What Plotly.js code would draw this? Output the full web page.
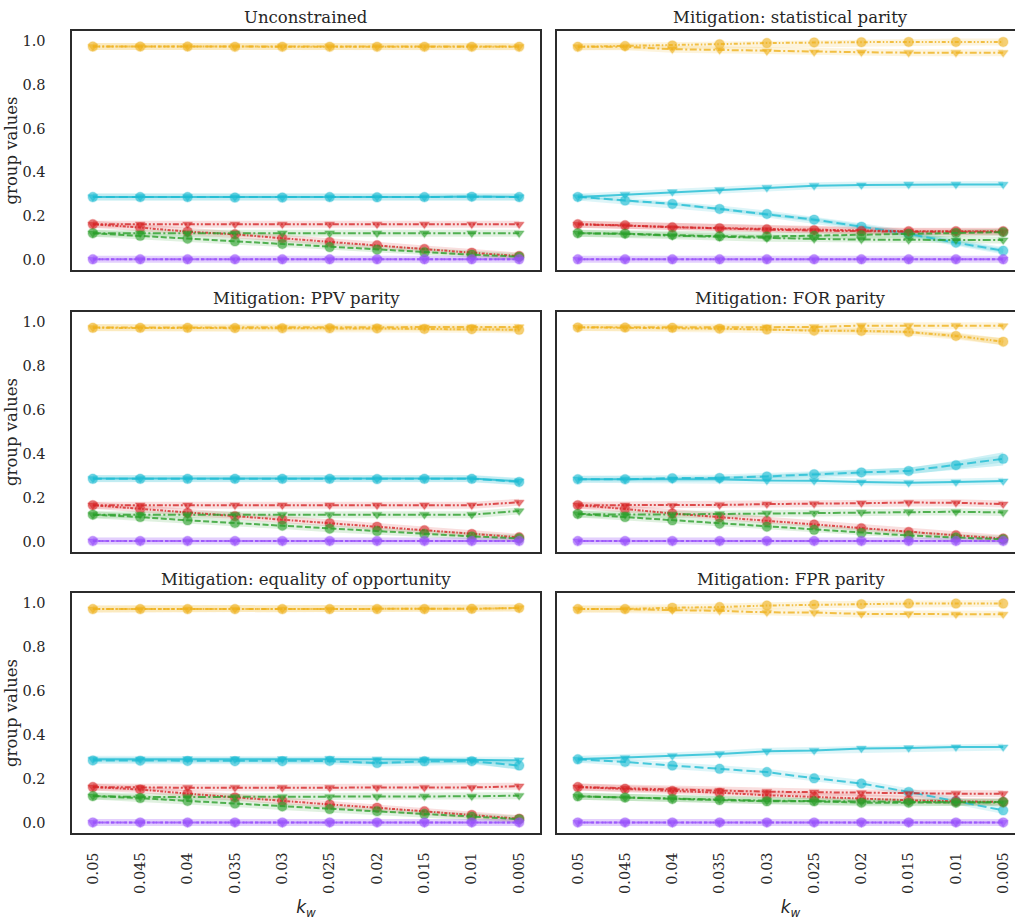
<!DOCTYPE html>
<html>
<head>
<meta charset="utf-8">
<script src="https://cdn.plot.ly/plotly-3.0.1.min.js"></script>
<style>
html,body{margin:0;padding:0;overflow:hidden;background:#fff;}
#chart{width:1024px;height:920px;}
</style>
</head>
<body>
<div id="chart"></div>
<script>
// ---------- data ----------
const kwLabels = ['0.05','0.045','0.04','0.035','0.03','0.025','0.02','0.015','0.01','0.005'];
const panelTitles = ['Unconstrained','Mitigation: statistical parity','Mitigation: PPV parity',
  'Mitigation: FOR parity','Mitigation: equality of opportunity','Mitigation: FPR parity'];
const yTickVals = [0, 0.2, 0.4, 0.6, 0.8, 1.0];
const yTickText = ['0.0','0.2','0.4','0.6','0.8','1.0'];

// each panel: series keyed by colour + marker (C = circle, T = triangle)
const unconstrained = {
  orangeC: [0.975,0.975,0.975,0.974,0.974,0.974,0.974,0.974,0.974,0.974],
  orangeT: [0.975,0.975,0.975,0.975,0.975,0.975,0.975,0.975,0.975,0.975],
  cyanC:   [0.287,0.287,0.287,0.285,0.285,0.287,0.286,0.287,0.289,0.287],
  cyanT:   [0.288,0.288,0.288,0.287,0.286,0.287,0.287,0.287,0.290,0.288],
  redC:    [0.163,0.148,0.129,0.117,0.099,0.082,0.067,0.050,0.033,0.018],
  redT:    [0.163,0.163,0.163,0.163,0.163,0.163,0.163,0.163,0.163,0.163],
  greenC:  [0.122,0.110,0.097,0.085,0.073,0.059,0.047,0.035,0.024,0.015],
  greenT:  [0.122,0.122,0.122,0.122,0.122,0.122,0.122,0.122,0.122,0.122],
  purpleC: [0.003,0.003,0.003,0.003,0.003,0.003,0.003,0.003,0.003,0.003],
  purpleT: [0.003,0.003,0.003,0.003,0.003,0.003,0.003,0.003,0.003,0.003]
};
const statParity = {
  orangeC: [0.974,0.977,0.980,0.986,0.991,0.994,0.995,0.996,0.996,0.996],
  orangeT: [0.974,0.974,0.963,0.959,0.954,0.950,0.949,0.947,0.947,0.947],
  cyanC:   [0.288,0.271,0.256,0.233,0.210,0.184,0.152,0.119,0.079,0.042],
  cyanT:   [0.288,0.298,0.311,0.320,0.330,0.339,0.342,0.345,0.345,0.345],
  redC:    [0.163,0.158,0.149,0.145,0.140,0.136,0.132,0.131,0.131,0.131],
  redT:    [0.163,0.157,0.148,0.143,0.138,0.134,0.131,0.129,0.129,0.128],
  greenC:  [0.122,0.120,0.114,0.108,0.107,0.110,0.113,0.119,0.123,0.127],
  greenT:  [0.122,0.119,0.111,0.105,0.099,0.096,0.093,0.091,0.091,0.091],
  purpleC: [0.003,0.003,0.003,0.003,0.003,0.003,0.003,0.003,0.003,0.003],
  purpleT: [0.003,0.003,0.003,0.003,0.003,0.003,0.003,0.003,0.003,0.003]
};
const ppvParity = {
  orangeC: [0.974,0.974,0.974,0.973,0.972,0.972,0.971,0.969,0.968,0.965],
  orangeT: [0.975,0.975,0.975,0.975,0.975,0.975,0.976,0.976,0.977,0.978],
  cyanC:   [0.287,0.287,0.287,0.287,0.287,0.287,0.286,0.287,0.287,0.273],
  cyanT:   [0.288,0.288,0.288,0.288,0.288,0.288,0.287,0.288,0.288,0.276],
  redC:    [0.167,0.150,0.132,0.117,0.101,0.085,0.069,0.053,0.036,0.021],
  redT:    [0.167,0.167,0.167,0.167,0.167,0.167,0.167,0.167,0.167,0.180],
  greenC:  [0.124,0.113,0.098,0.086,0.074,0.060,0.049,0.036,0.025,0.016],
  greenT:  [0.124,0.124,0.124,0.124,0.124,0.124,0.124,0.124,0.124,0.141],
  purpleC: [0.004,0.004,0.004,0.004,0.004,0.004,0.004,0.004,0.004,0.004],
  purpleT: [0.004,0.004,0.004,0.004,0.004,0.004,0.004,0.004,0.004,0.004]
};
const forParity = {
  orangeC: [0.976,0.975,0.974,0.970,0.966,0.961,0.960,0.955,0.937,0.911],
  orangeT: [0.976,0.976,0.974,0.974,0.977,0.978,0.984,0.984,0.984,0.983],
  cyanC:   [0.285,0.285,0.290,0.291,0.298,0.308,0.316,0.323,0.349,0.378],
  cyanT:   [0.285,0.285,0.286,0.285,0.279,0.278,0.272,0.269,0.272,0.277],
  redC:    [0.167,0.150,0.129,0.112,0.095,0.079,0.062,0.045,0.030,0.015],
  redT:    [0.167,0.167,0.165,0.168,0.172,0.173,0.176,0.179,0.178,0.172],
  greenC:  [0.127,0.113,0.098,0.083,0.069,0.055,0.041,0.029,0.020,0.012],
  greenT:  [0.127,0.124,0.125,0.127,0.130,0.131,0.134,0.137,0.137,0.134],
  purpleC: [0.004,0.004,0.004,0.004,0.004,0.004,0.004,0.004,0.004,0.004],
  purpleT: [0.004,0.004,0.004,0.004,0.004,0.004,0.004,0.004,0.004,0.004]
};
const eqOpportunity = {
  orangeC: [0.973,0.973,0.973,0.973,0.973,0.973,0.973,0.973,0.974,0.978],
  orangeT: [0.973,0.973,0.973,0.973,0.973,0.973,0.974,0.973,0.974,0.978],
  cyanC:   [0.284,0.283,0.282,0.281,0.281,0.282,0.272,0.280,0.281,0.261],
  cyanT:   [0.289,0.289,0.291,0.291,0.291,0.292,0.289,0.288,0.287,0.285],
  redC:    [0.163,0.152,0.133,0.116,0.100,0.084,0.069,0.053,0.036,0.019],
  redT:    [0.163,0.160,0.160,0.160,0.160,0.160,0.161,0.161,0.161,0.167],
  greenC:  [0.122,0.113,0.100,0.088,0.075,0.063,0.053,0.040,0.028,0.017],
  greenT:  [0.122,0.118,0.118,0.118,0.118,0.118,0.119,0.121,0.121,0.124],
  purpleC: [0.002,0.002,0.002,0.002,0.002,0.002,0.002,0.002,0.002,0.002],
  purpleT: [0.002,0.002,0.002,0.002,0.002,0.002,0.002,0.002,0.002,0.002]
};
const fprParity = {
  orangeC: [0.973,0.973,0.979,0.982,0.989,0.993,0.995,0.998,0.998,0.998],
  orangeT: [0.973,0.973,0.968,0.965,0.958,0.957,0.951,0.951,0.949,0.949],
  cyanC:   [0.289,0.277,0.261,0.246,0.231,0.203,0.179,0.141,0.100,0.057],
  cyanT:   [0.289,0.296,0.305,0.314,0.326,0.329,0.339,0.341,0.345,0.345],
  redC:    [0.163,0.155,0.145,0.137,0.126,0.118,0.109,0.103,0.098,0.095],
  redT:    [0.163,0.157,0.150,0.147,0.142,0.140,0.136,0.133,0.133,0.133],
  greenC:  [0.121,0.115,0.109,0.104,0.098,0.098,0.092,0.092,0.092,0.095],
  greenT:  [0.121,0.115,0.110,0.106,0.101,0.099,0.096,0.095,0.093,0.092],
  purpleC: [0.002,0.002,0.002,0.002,0.002,0.002,0.002,0.002,0.002,0.002],
  purpleT: [0.002,0.002,0.002,0.002,0.002,0.002,0.002,0.002,0.002,0.002]
};
const panels = [unconstrained, statParity, ppvParity, forParity, eqOpportunity, fprParity];

// confidence-interval half widths for the visibly wide bands
const statCyanC_ci = [0.002,0.006,0.006,0.007,0.008,0.009,0.010,0.010,0.010,0.010];
const ppvOrangeC_ci = [0.002,0.002,0.002,0.003,0.004,0.004,0.005,0.006,0.008,0.010];
const forOrangeC_ci = [0.002,0.002,0.003,0.004,0.004,0.005,0.006,0.007,0.010,0.016];
const forCyanC_ci  = [0.002,0.002,0.004,0.006,0.008,0.010,0.012,0.014,0.020,0.030];
const eoCyanC_ci   = [0.003,0.003,0.004,0.005,0.006,0.007,0.008,0.008,0.010,0.020];
const wideBands = [
  {panel: 1, key: 'cyanC', half: statCyanC_ci},
  {panel: 2, key: 'orangeC', half: ppvOrangeC_ci},
  {panel: 3, key: 'orangeC', half: forOrangeC_ci},
  {panel: 3, key: 'cyanC', half: forCyanC_ci},
  {panel: 4, key: 'cyanC', half: eoCyanC_ci}
];

// ---------- styles ----------
const colors = {orange:'#efb21e', cyan:'#1fbdd3', red:'#d62728', green:'#2ca02c', purple:'#9a52fb'};
function rgba(hex, a){
  const n = parseInt(hex.slice(1),16);
  return `rgba(${(n>>16)&255},${(n>>8)&255},${n&255},${a})`;
}
const seriesStyles = [
  {key:'orangeC', color:'orange', symbol:'circle',        dash:'4px,2px,1.5px,2px,1.5px,2px'},
  {key:'orangeT', color:'orange', symbol:'triangle-down', dash:'7px,2.5px,2px,2.5px'},
  {key:'cyanC',   color:'cyan',   symbol:'circle',        dash:'9px,4px'},
  {key:'cyanT',   color:'cyan',   symbol:'triangle-down', dash:'solid'},
  {key:'redC',    color:'red',    symbol:'circle',        dash:'3px,1.5px,1.5px,1.5px'},
  {key:'redT',    color:'red',    symbol:'triangle-down', dash:'6px,2px,2px,2px,2px,2px'},
  {key:'greenC',  color:'green',  symbol:'circle',        dash:'6px,2.5px'},
  {key:'greenT',  color:'green',  symbol:'triangle-down', dash:'8px,2.5px,2px,2.5px'},
  {key:'purpleC', color:'purple', symbol:'circle',        dash:'3px,1.5px'},
  {key:'purpleT', color:'purple', symbol:'triangle-down', dash:'4px,2px'}
];

// ---------- layout geometry ----------
const W = 1024, H = 920;
const colPx = [[72, 540], [557, 1024]];
const rowPx = [[31, 270], [312, 552], [593, 833]];
const fontSerif = 'DejaVu Serif, serif';
const textColor = '#262626';

const traces = [];
const layout = {
  width: W, height: H,
  margin: {l:0, r:0, t:0, b:0},
  paper_bgcolor: '#ffffff', plot_bgcolor: '#ffffff',
  showlegend: false,
  font: {family: fontSerif, color: textColor, size: 14},
  annotations: []
};

panels.forEach((pdata, p) => {
  const row = Math.floor(p / 2), col = p % 2;
  const idx = p + 1;
  const xa = 'x' + (idx === 1 ? '' : idx), ya = 'y' + (idx === 1 ? '' : idx);
  const xDom = [colPx[col][0] / W, colPx[col][1] / W];
  const yDom = [(H - rowPx[row][1]) / H, (H - rowPx[row][0]) / H];

  const xaxis = {
    domain: xDom, anchor: ya, type: 'category',
    categoryorder: 'array', categoryarray: kwLabels,
    range: [-0.44, 9.44],
    showline: true, mirror: true, linecolor: '#2b2b2b', linewidth: 1.6,
    showgrid: false, zeroline: false,
    ticks: 'outside', ticklen: 12, tickcolor: 'rgba(0,0,0,0)',
    showticklabels: row === 2, tickangle: -90,
    tickfont: {family: fontSerif, size: 14.5, color: textColor}
  };
  if (row === 2) {
    xaxis.title = {text: '<i>k</i><sub><i>w</i></sub>', standoff: 10,
      font: {family: 'DejaVu Sans, sans-serif', size: 17, color: textColor}};
  }
  const yaxis = {
    domain: yDom, anchor: xa,
    range: [-0.046, 1.046],
    tickvals: yTickVals, ticktext: yTickText,
    showline: true, mirror: true, linecolor: '#2b2b2b', linewidth: 1.6,
    showgrid: false, zeroline: false,
    ticks: 'outside', ticklen: 22, tickcolor: 'rgba(0,0,0,0)',
    showticklabels: col === 0,
    tickfont: {family: fontSerif, size: 14.5, color: textColor}
  };
  if (col === 0) {
    yaxis.title = {text: 'group values', standoff: 0,
      font: {family: fontSerif, size: 16.5, color: textColor}};
  }
  layout['xaxis' + (idx === 1 ? '' : idx)] = xaxis;
  layout['yaxis' + (idx === 1 ? '' : idx)] = yaxis;
  layout.annotations.push({
    text: panelTitles[p], xref: 'paper', yref: 'paper',
    x: (xDom[0] + xDom[1]) / 2, y: yDom[1], xanchor: 'center', yanchor: 'bottom',
    yshift: 2, showarrow: false,
    font: {family: fontSerif, size: 16.5, color: textColor}
  });

  // wide CI bands
  wideBands.filter(b => b.panel === p).forEach(b => {
    const vals = pdata[b.key];
    const st = seriesStyles.find(s => s.key === b.key);
    const c = colors[st.color];
    traces.push({x: kwLabels, y: vals.map((v, i) => v + b.half[i]), xaxis: xa, yaxis: ya,
      mode: 'lines', line: {width: 0, color: 'rgba(0,0,0,0)'}, hoverinfo: 'skip'});
    traces.push({x: kwLabels, y: vals.map((v, i) => v - b.half[i]), xaxis: xa, yaxis: ya,
      mode: 'lines', line: {width: 0, color: 'rgba(0,0,0,0)'}, fill: 'tonexty',
      fillcolor: rgba(c, 0.22), hoverinfo: 'skip'});
  });

  // faint halo (narrow CI) under every line
  seriesStyles.forEach(st => {
    traces.push({x: kwLabels, y: pdata[st.key], xaxis: xa, yaxis: ya, mode: 'lines',
      line: {color: rgba(colors[st.color], 0.15), width: 7}, hoverinfo: 'skip'});
  });
  // lines with markers
  seriesStyles.forEach(st => {
    const c = colors[st.color];
    traces.push({x: kwLabels, y: pdata[st.key], xaxis: xa, yaxis: ya, mode: 'lines+markers',
      line: {color: rgba(c, 0.8), width: 2, dash: st.dash},
      marker: {symbol: st.symbol, size: st.symbol === 'circle' ? 9.5 : 8.5,
        color: rgba(c, 0.62), line: {color: rgba(c, 0.25), width: 1.5}},
      name: st.key});
  });
});

Plotly.newPlot('chart', traces, layout, {staticPlot: true});
</script>
</body>
</html>
